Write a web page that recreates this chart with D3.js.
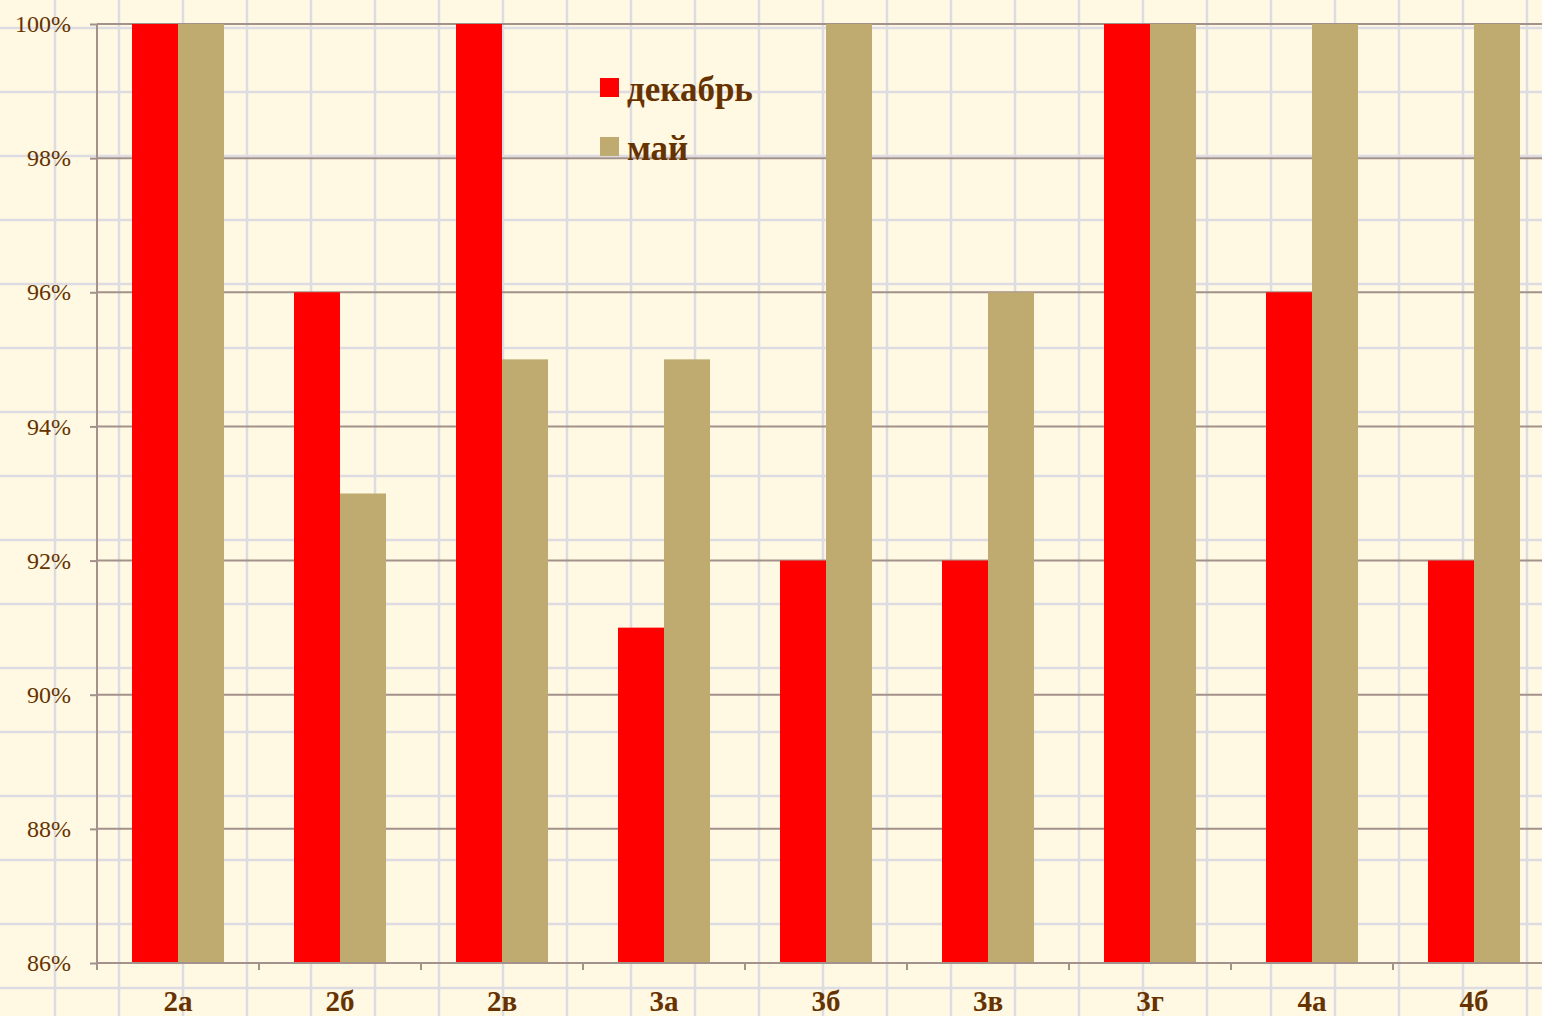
<!DOCTYPE html>
<html>
<head>
<meta charset="utf-8">
<script src="https://cdn.jsdelivr.net/npm/d3@7"></script>
<style>
  html, body { margin: 0; padding: 0; background: #fff8e2; }
  svg { display: block; font-family: "Liberation Serif", "Times New Roman", serif; }
</style>
</head>
<body>
<svg id="chart"></svg>
<script>
  // chart data
  var classes = ["2а", "2б", "2в", "3а", "3б", "3в", "3г", "4а", "4б"];
  var series = ["декабрь", "май"];
  var december = [100, 96, 100, 91, 92, 92, 100, 96, 92];
  var may = [100, 93, 95, 95, 100, 96, 100, 100, 100];
  var yTicks = [86, 88, 90, 92, 94, 96, 98, 100];

  var width = 1542, height = 1016;
  var colors = {"декабрь": "#ff0000", "май": "#bfaa70"};
  var textColor = "#663300";
  var gridColor = "#a3918b";

  // plot area (right edge runs past the picture)
  var plotLeft = 97, plotRight = 1555, plotTop = 24, plotBottom = 963;

  var svg = d3.select("#chart").attr("width", width).attr("height", height);

  svg.append("rect").attr("width", width).attr("height", height).attr("fill", "#fff8e2");

  // squared paper in the background
  var paper = svg.append("g").attr("stroke", "#dcdce2").attr("stroke-width", 2.5);
  paper.selectAll(".vx").data(d3.range(55, width, 64)).join("line")
    .attr("x1", d => d).attr("x2", d => d).attr("y1", 0).attr("y2", height);
  paper.selectAll(".hy").data(d3.range(28, height, 64)).join("line")
    .attr("y1", d => d).attr("y2", d => d).attr("x1", 0).attr("x2", width);

  var x = d3.scaleBand().domain(classes).range([plotLeft, plotRight]).padding(0);
  var xs = d3.scaleBand().domain(series).range([0, x.bandwidth()])
    .paddingInner(0).paddingOuter(35 / 46);
  var y = d3.scaleLinear().domain([86, 100]).range([plotBottom, plotTop]);

  // horizontal gridlines
  svg.append("g").selectAll("line").data(yTicks.slice(1)).join("line")
    .attr("x1", plotLeft).attr("x2", width)
    .attr("y1", d => y(d)).attr("y2", d => y(d))
    .attr("stroke", gridColor).attr("stroke-width", 2);

  var rows = classes.map((c, i) => ({cls: c, values: [december[i], may[i]]}));

  svg.append("g").selectAll("g").data(rows).join("g")
    .attr("transform", d => `translate(${x(d.cls)},0)`)
    .selectAll("rect").data(d => d.values.map((v, j) => ({key: series[j], value: v})))
    .join("rect")
      .attr("x", d => xs(d.key))
      .attr("width", xs.bandwidth())
      .attr("y", d => y(d.value))
      .attr("height", d => y(86) - y(d.value))
      .attr("fill", d => colors[d.key]);

  // y axis
  var yAxis = svg.append("g").attr("transform", `translate(${plotLeft},0)`)
    .call(d3.axisLeft(y).tickValues(yTicks).tickFormat(d => d + "%").tickSize(7).tickPadding(19));
  yAxis.select(".domain").attr("stroke", gridColor).attr("stroke-width", 2)
    .attr("d", `M0,${plotTop}V${plotBottom}`);
  yAxis.selectAll(".tick line").attr("stroke", gridColor).attr("stroke-width", 2);
  yAxis.selectAll(".tick text").attr("fill", textColor).attr("font-size", 24)
    .attr("font-family", "Liberation Serif");

  // x axis
  var xAxis = svg.append("g");
  xAxis.append("line").attr("x1", plotLeft).attr("x2", plotRight)
    .attr("y1", plotBottom).attr("y2", plotBottom)
    .attr("stroke", gridColor).attr("stroke-width", 2);
  xAxis.selectAll(".tk").data(classes).join("line")
    .attr("x1", d => x(d)).attr("x2", d => x(d))
    .attr("y1", plotBottom).attr("y2", plotBottom + 7)
    .attr("stroke", gridColor).attr("stroke-width", 2);
  xAxis.selectAll("text").data(classes).join("text")
    .attr("x", d => x(d) + x.bandwidth() / 2)
    .attr("y", 1011)
    .attr("text-anchor", "middle")
    .attr("font-size", 29).attr("font-weight", "bold")
    .attr("fill", textColor)
    .text(d => d);

  // legend
  var legend = svg.append("g").selectAll("g").data(series).join("g")
    .attr("transform", (d, i) => `translate(600,${78 + i * 59})`);
  legend.append("rect").attr("width", 19).attr("height", 19).attr("fill", d => colors[d]);
  legend.append("text").attr("x", 27).attr("y", 23)
    .attr("font-size", 35).attr("font-weight", "bold").attr("fill", textColor)
    .text(d => d);
</script>
</body>
</html>
